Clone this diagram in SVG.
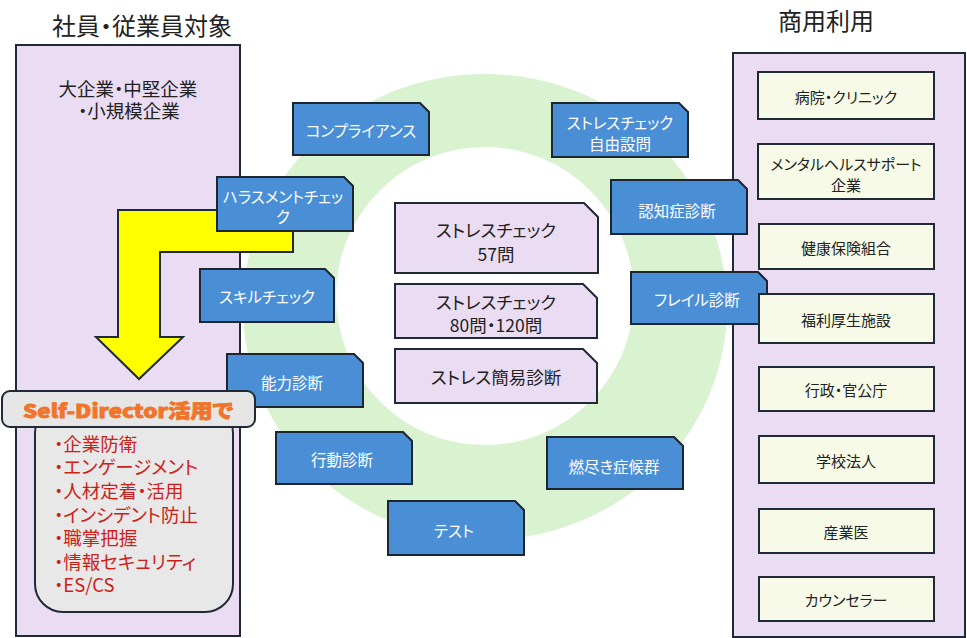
<svg xmlns="http://www.w3.org/2000/svg" width="967" height="638" viewBox="0 0 967 638">
<style>
text{font-family:"Noto Sans CJK JP","Noto Sans",sans-serif;font-feature-settings:"palt";text-anchor:middle;dominant-baseline:central}
.panel{fill:#EADCF2;stroke:#1F2A36;stroke-width:2}
.blue path{fill:#4A8FD5;stroke:#1B2631;stroke-width:2}
.blue text{fill:#FFFFFF;font-size:15.5px}
.pink path{fill:#EADCF2;stroke:#1F2A36;stroke-width:2}
.pink text{fill:#222222;font-size:17.5px}
.beige rect{fill:#F6FAE6;stroke:#1F2A36;stroke-width:2}
.beige text{fill:#222222;font-size:15px}
.title{fill:#222222;font-size:24px}
.dark{fill:#222222;font-size:18.5px}
.red{fill:#CC1F1A;font-size:18.5px;text-anchor:start}
</style>
<rect width="967" height="638" fill="#FFFFFF"/>
<!-- green ring -->
<path id="ring" fill="#D9F2D0" fill-rule="evenodd" d="M243 307 A242 233 0 1 0 727 307 A242 233 0 1 0 243 307 Z M336 296 A149 149 0 1 0 634 296 A149 149 0 1 0 336 296 Z"/>

<g id="left-panel">
<text class="title" x="142" y="24">社員・従業員対象</text>
<rect class="panel" x="16" y="45" width="224" height="591"/>
<text class="dark" x="128" y="88">大企業・中堅企業</text>
<text class="dark" x="129" y="110">・小規模企業</text>
</g>

<g id="right-panel">
<text class="title" x="826" y="19">商用利用</text>
<rect class="panel" x="733" y="53" width="232" height="584"/>
</g>

<g id="connectors">
<polygon id="yellow-arrow" points="118,210 293,210 293,252 160,252 160,337 183,337 139,379 96,337 118,337" fill="#FFFF00" stroke="#1F2A36" stroke-width="2" stroke-linejoin="miter"/>
</g>

<g class="blue">
<g id="n-compliance"><path d="M293 103H420L429 112V155H293Z"/><text x="361" y="130">コンプライアンス</text></g>
<g id="n-stress-free"><path d="M552 103H679L688 112V157H552Z"/><text x="620" y="122">ストレスチェック</text><text x="620" y="143">自由設問</text></g>
<g id="n-harassment"><path d="M217 177H344L353 186V231H217Z"/><text x="283" y="196">ハラスメントチェッ</text><text x="283" y="216">ク</text></g>
<g id="n-skill"><path d="M200 269H325L334 278V322H200Z"/><text x="267" y="296">スキルチェック</text></g>
<g id="n-ability"><path d="M227 354H354L363 363V407H227Z"/><text x="292" y="382">能力診断</text></g>
<g id="n-behavior"><path d="M276 432H403L412 441V484H276Z"/><text x="342" y="459">行動診断</text></g>
<g id="n-test"><path d="M388 501H515L524 510V555H388Z"/><text x="454" y="530">テスト</text></g>
<g id="n-burnout"><path d="M547 437H674L683 446V489H547Z"/><text x="614" y="466">燃尽き症候群</text></g>
<g id="n-dementia"><path d="M611 180H738L747 189V234H611Z"/><text x="677" y="210">認知症診断</text></g>
<g id="n-frail"><path d="M631 272H758L767 281V324H631Z"/><text x="697" y="299">フレイル診断</text></g>
</g>

<g class="pink">
<g id="n-stress57"><path d="M395 203H584L598 217V273H395Z"/><text x="496" y="229">ストレスチェック</text><text x="496" y="253">57問</text></g>
<g id="n-stress80"><path d="M395 284H583L597 298V338H395Z"/><text x="496" y="301">ストレスチェック</text><text x="496" y="324">80問・120問</text></g>
<g id="n-stress-simple"><path d="M395 349H583L597 363V403H395Z"/><text x="496" y="376">ストレス簡易診断</text></g>
</g>

<g id="self-director">
<rect x="35" y="405" width="198" height="207" rx="28" ry="28" fill="#E8E8E8" stroke="#1F2A36" stroke-width="2"/>
<rect x="2" y="391" width="253" height="36" rx="8" ry="8" fill="#E6E6E6" stroke="#1F2A36" stroke-width="2"/>
<text x="128" y="409" font-size="19" font-weight="900" fill="#F0742A" stroke="#F0742A" stroke-width="0.8" textLength="210" lengthAdjust="spacingAndGlyphs">Self-Director活用で</text>
<text class="red" x="54" y="443">・企業防衛</text>
<text class="red" x="54" y="466">・エンゲージメント</text>
<text class="red" x="54" y="490">・人材定着・活用</text>
<text class="red" x="54" y="514">・インシデント防止</text>
<text class="red" x="54" y="537">・職掌把握</text>
<text class="red" x="54" y="561">・情報セキュリティ</text>
<text class="red" x="54" y="584">・ES/CS</text>
</g>

<g class="beige">
<g id="b-hospital"><rect x="758" y="72" width="176" height="47"/><text x="846" y="96">病院・クリニック</text></g>
<g id="b-mental"><rect x="758" y="144" width="176" height="55"/><text x="846" y="163">メンタルヘルスサポート</text><text x="846" y="184">企業</text></g>
<g id="b-insurance"><rect x="759" y="224" width="175" height="45"/><text x="846" y="247">健康保険組合</text></g>
<g id="b-welfare"><rect x="759" y="294" width="175" height="49"/><text x="846" y="319">福利厚生施設</text></g>
<g id="b-gov"><rect x="759" y="367" width="175" height="44"/><text x="846" y="389">行政・官公庁</text></g>
<g id="b-school"><rect x="759" y="436" width="175" height="47"/><text x="846" y="460">学校法人</text></g>
<g id="b-doctor"><rect x="759" y="509" width="175" height="44"/><text x="846" y="531">産業医</text></g>
<g id="b-counselor"><rect x="759" y="577" width="175" height="44"/><text x="846" y="599">カウンセラー</text></g>
</g>
</svg>
